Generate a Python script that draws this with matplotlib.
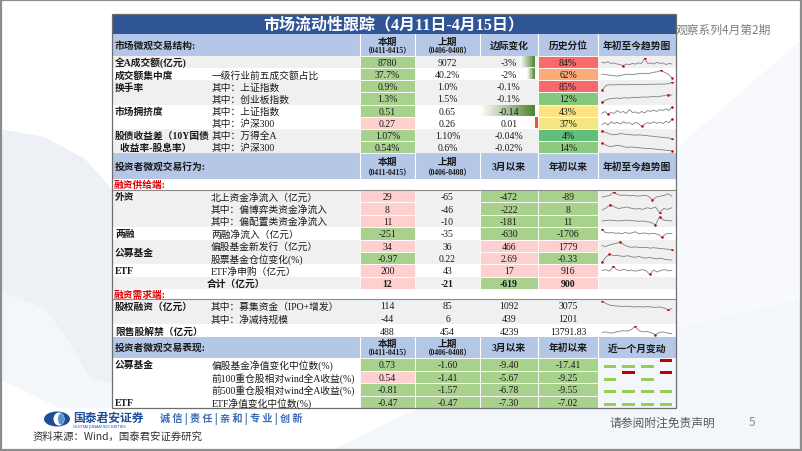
import numpy as np
import matplotlib
matplotlib.use("Agg")
import matplotlib.pyplot as plt
from matplotlib.patches import Rectangle, Polygon, Ellipse
from matplotlib.colors import LinearSegmentedColormap

SERIF = ["Liberation Serif", "Noto Sans CJK SC"]
SANS = ["Noto Sans CJK SC", "DejaVu Sans"]

# ---------------- data ----------------
title = "市场流动性跟踪（4月11日-4月15日）"
side_note = "观察系列4月第2期"
cur_period = "（0411-0415）"
prev_period = "（0406-0408）"

hdr1 = ["本期", "上期", "边际变化", "历史分位", "年初至今趋势图"]
hdr2 = ["本期", "上期", "3月以来", "年初以来", "年初至今趋势图"]
hdr3 = ["本期", "上期", "3月以来", "年初以来", "近一个月变动"]
sec_titles = ["市场微观交易结构:", "投资者微观交易行为:", "投资者微观交易表现:"]
sub_titles = ["融资供给端:", "融资需求端:"]

# section 1: market structure
s1_labels = ["全A成交额(亿元)", "成交额集中度", "换手率", "", "市场拥挤度", "",
             "股债收益差（10Y国债", "  收益率-股息率）"]
s1_sub = ["", "一级行业前五成交额占比", "其中：上证指数", "其中：创业板指数",
          "其中：上证指数", "其中：沪深300", "其中：万得全A", "其中：沪深300"]
s1_cur = ["8780", "37.7%", "0.9%", "1.3%", "0.51", "0.27", "1.07%", "0.54%"]
s1_prev = ["9072", "40.2%", "1.0%", "1.5%", "0.65", "0.26", "1.10%", "0.6%"]
s1_delta = ["-3%", "-2%", "-0.1%", "-0.1%", "-0.14", "0.01", "-0.04%", "-0.02%"]
s1_delta_val = [-3, -2, -0.1, -0.1, -0.14, 0.01, -0.04, -0.02]
s1_pct = [84, 62, 85, 12, 43, 37, 4, 14]
s1_cur_fill = ["g", "g", "g", "g", "g", "p", "g", "g"]
s1_trend = [
    [0.6, 0.55, 0.65, 0.5, 0.55, 0.45, 0.4, 0.3, 0.45, 0.4, 0.5, 0.45, 0.55, 0.5, 0.95, 0.5, 0.55, 0.45, 0.6, 0.5, 0.55, 0.4, 0.5, 0.45],
    [0.5, 0.45, 0.4, 0.35, 0.3, 0.35, 0.45, 0.5, 0.45, 0.5, 0.55, 0.6, 0.55, 0.6, 0.7, 0.75, 0.9, 0.7, 0.5, 0.1],
    [0.0, 0.6, 0.7, 0.68, 0.7, 0.72, 0.7, 0.71, 0.73, 0.72, 0.74, 0.73, 0.75, 0.76, 0.75, 0.78, 0.77, 0.8, 0.82, 1.0],
    [0.0, 0.3, 0.45, 0.5, 0.55, 0.5, 0.6, 0.55, 0.6, 0.65, 0.6, 0.7, 0.65, 0.7, 0.75, 0.7, 0.8, 0.85, 1.0, 0.9],
    [0.3, 0.5, 0.2, 0.4, 0.3, 0.6, 0.4, 0.5, 0.3, 0.7, 0.4, 0.45, 0.3, 0.5, 0.35, 0.6, 0.5, 0.65, 0.5, 0.7, 0.6, 0.8, 0.6, 1.0],
    [0.4, 0.6, 0.35, 0.7, 0.5, 0.65, 0.45, 0.7, 0.55, 0.6, 0.4, 0.65, 0.5, 0.2, 0.45, 0.6, 0.5, 0.7, 0.55, 0.65, 0.5, 0.75, 0.6, 1.0],
    [1.0, 0.8, 0.6, 0.5, 0.55, 0.65, 0.6, 0.55, 0.5, 0.45, 0.5, 0.45, 0.4, 0.35, 0.3, 0.25, 0.2, 0.15, 0.1, 0.0],
    [1.0, 0.75, 0.55, 0.6, 0.7, 0.65, 0.5, 0.45, 0.5, 0.45, 0.4, 0.35, 0.3, 0.3, 0.25, 0.2, 0.15, 0.1, 0.05, 0.0],
]

# section 2: investor behaviour (supply side)
s2_labels = ["外资", "", "", "两融", "公募基金", "", "ETF", ""]
s2_sub = ["北上资金净流入（亿元）", "其中：偏博弈类资金净流入", "其中：偏配置类资金净流入",
          "两融净流入（亿元）", "偏股基金新发行（亿元）", "股票基金仓位变化(%)",
          "ETF净申购（亿元）", "合计（亿元）"]
s2_cur = ["29", "8", "11", "-251", "34", "-0.97", "200", "12"]
s2_prev = ["-65", "-46", "-10", "-35", "36", "0.22", "43", "-21"]
s2_mar = ["-472", "-222", "-181", "-630", "466", "2.69", "17", "-619"]
s2_ytd = ["-89", "8", "11", "-1706", "1779", "-0.33", "916", "900"]
s2_cur_fill = ["p", "p", "p", "g", "p", "g", "p", "p"]
s2_mar_fill = ["g", "g", "g", "g", "p", "p", "p", "g"]
s2_ytd_fill = ["g", "g", "g", "g", "p", "g", "p", "p"]
s2_trend = [
    [0.4, 0.5, 0.6, 1.0, 0.7, 0.6, 0.65, 0.55, 0.6, 0.5, 0.55, 0.6, 0.5, 0.0, 0.4, 0.5, 0.6, 0.8, 0.5],
    [0.3, 0.6, 1.0, 0.7, 0.5, 0.6, 0.7, 0.55, 0.45, 0.5, 0.4, 0.6, 0.5, 0.7, 0.0, 0.5, 0.4, 0.6],
    [0.5, 0.55, 0.6, 0.55, 0.5, 0.55, 0.6, 0.55, 0.5, 0.45, 0.5, 0.4, 0.3, 0.0, 1.0, 0.6, 0.55, 0.5],
    [1.0, 0.6, 0.55, 0.6, 0.5, 0.55, 0.45, 0.6, 0.5, 0.55, 0.7, 0.45, 0.5, 0.55, 0.4, 0.5, 0.45, 0.35, 0.0, 0.4, 0.5, 0.45],
    [0.5, 0.4, 0.6, 0.7, 0.8, 1.0, 0.6, 0.4, 0.3, 0.35, 0.3, 0.25, 0.3, 0.2, 0.25, 0.2, 0.15, 0.1, 0.05, 0.0],
    [0.0, 0.6, 1.0, 0.8, 0.85, 0.75, 0.7, 0.8, 0.65, 0.6, 0.7, 0.55, 0.5, 0.6, 0.45, 0.4, 0.5, 0.35, 0.3, 0.25],
    [0.5, 0.6, 0.4, 1.0, 0.6, 0.5, 0.65, 0.45, 0.55, 0.4, 0.5, 0.6, 0.45, 0.0, 0.55, 0.3, 0.5, 0.6, 0.45, 0.5],
    None,
]

# section 2b: demand side
s2b_labels = ["股权融资（亿元）", "", "限售股解禁（亿元）"]
s2b_sub = ["其中：募集资金（IPO+增发）", "其中：净减持规模", ""]
s2b_cur = ["114", "-44", "488"]
s2b_prev = ["85", "6", "454"]
s2b_mar = ["1092", "439", "4239"]
s2b_ytd = ["3075", "1201", "13791.83"]
s2b_trend = [
    [1.0, 0.7, 0.5, 0.45, 0.4, 0.35, 0.4, 0.35, 0.3, 0.35, 0.3, 0.35, 0.3, 0.25, 0.3, 0.2, 0.0, 0.1],
    None,
    [0.3, 0.35, 0.2, 0.3, 0.4, 0.5, 0.45, 0.6, 1.0, 0.5, 0.35, 0.4, 0.25, 0.0, 0.3, 0.35, 0.2, 0.15],
]

# section 3: investor performance
s3_labels = ["公募基金", "", "", "ETF"]
s3_sub = ["偏股基金净值变化中位数(%)", "前100重仓股相对wind全A收益(%)",
          "前500重仓股相对wind全A收益(%)", "ETF净值变化中位数(%)"]
s3_cur = ["0.73", "0.54", "-0.81", "-0.47"]
s3_prev = ["-1.60", "-1.41", "-1.57", "-0.47"]
s3_mar = ["-9.40", "-5.67", "-6.78", "-7.30"]
s3_ytd = ["-17.41", "-9.25", "-9.55", "-7.02"]
s3_cur_fill = ["g", "p", "g", "g"]
s3_month = [[-1, -1, -1, 1], [-1, 1, -1, 1], [-1, -1, -1, -1], [-1, -1, -1, -1]]

# ---------------- style ----------------
W, H = 802, 452
COLS = [112, 208, 360, 415, 480, 538, 598, 676]
FILL = {"g": "#A9D18E", "p": "#FDCFCF", "": None}
ROW_BG = {"g": "#F0F0F0", "w": "#FFFFFF"}
HDR_BLUE = "#B4C7E7"
TITLE_BLUE = "#2F5597"
TXT = "#1A1A1A"
DELTA_AXIS = 535
DELTA_SCALE = {0: 5.0, 1: 4.0, 4: 390.0, 5: 300.0}

fig = plt.figure(figsize=(W / 100, H / 100), dpi=100)
ax = fig.add_axes([0, 0, 1, 1])
ax.set_xlim(0, W)
ax.set_ylim(H, 0)
ax.axis("off")


def rect(x0, y0, x1, y1, color, z=1, ec="none", lw=0):
    ax.add_patch(Rectangle((x0, y0), x1 - x0, y1 - y0, facecolor=color,
                           edgecolor=ec, linewidth=lw, zorder=z))


def txt(x, y, s, size=7, ha="center", weight="normal", color=TXT, family=SERIF, z=5):
    ax.text(x, y, s, fontsize=size, ha=ha, va="center", fontweight=weight,
            color=color, family=family, zorder=z)


def spark(vals, y0, y1):
    sp = fig.add_axes([601 / W, 1 - (y1 - 1.5) / H, 72 / W, (y1 - y0 - 3) / H])
    v = np.asarray(vals, float)
    sp.plot(v, color="#808080", lw=0.6)
    for i in (v.argmin(), v.argmax()):
        sp.plot(i, v[i], "o", color="#C00000", ms=1.8, mec="none")
    sp.set_xlim(-0.3, len(v) - 0.7)
    sp.set_ylim(v.min() - 0.08, v.max() + 0.08)
    sp.axis("off")


def winloss(signs, y0, y1):
    sp = fig.add_axes([600 / W, 1 - y1 / H, 76 / W, (y1 - y0) / H])
    s = np.asarray(signs)
    sp.bar(np.arange(len(s)), 0.3, bottom=np.where(s > 0, 0.6, -0.1),
           width=0.68, color=np.where(s > 0, "#C00000", "#92D050"))
    sp.set_xlim(-0.55, len(s) - 0.45)
    sp.set_ylim(-0.35, 1.0)
    sp.axis("off")


def header(y0, y1, title_txt, cols):
    rect(COLS[0], y0, COLS[-1], y1, HDR_BLUE, z=1)
    for x in COLS[2:-1]:
        ax.plot([x, x], [y0, y1], color="white", lw=0.8, zorder=2)
    txt(115, (y0 + y1) / 2, title_txt, ha="left", weight="bold")
    for k, name in enumerate(cols):
        cx = (COLS[k + 2] + COLS[k + 3]) / 2
        if k < 2:
            txt(cx, y0 + (y1 - y0) * 0.32, name, weight="bold")
            txt(cx, y0 + (y1 - y0) * 0.74, cur_period if k == 0 else prev_period, size=5.5, weight="bold")
        else:
            txt(cx, (y0 + y1) / 2, name, weight="bold")


def value_cell(k, y0, y1, s, fill, weight="normal"):
    x0, x1 = COLS[k + 2], COLS[k + 3]
    if FILL[fill]:
        rect(x0, y0, x1, y1, FILL[fill], z=2, ec="white", lw=0.6)
    txt((x0 + x1) / 2, (y0 + y1) / 2 + 0.5, s, weight=weight)


# ---------------- slide background ----------------
ax.add_patch(Polygon([(0, 130), (45, 138), (85, 160), (112, 190), (112, 385), (90, 380),
                      (70, 345), (45, 310), (0, 292)], closed=True, facecolor="#EDF1F6",
                     edgecolor="none", zorder=0))
ax.add_patch(Polygon([(0, 292), (45, 310), (70, 345), (90, 380), (112, 385), (112, 409),
                      (60, 409), (0, 380)], closed=True, facecolor="#F4F7FA", edgecolor="none", zorder=0))
ax.add_patch(Polygon([(330, 452), (560, 340), (802, 300), (802, 452)], closed=True,
                     facecolor="#F3F6FA", edgecolor="none", zorder=0))
ax.add_patch(Polygon([(676, 150), (802, 40), (802, 300), (676, 330)], closed=True,
                     facecolor="#F7F9FC", edgecolor="none", zorder=0))
rect(0.8, 0.8, W - 0.8, H - 0.8, "none", z=10, ec="#8C8C8C", lw=1.6)

# ---------------- title ----------------
rect(COLS[0], 15, COLS[-1], 35, TITLE_BLUE, z=1)
txt((COLS[0] + COLS[-1]) / 2, 25.5, title, size=11.5, weight="bold", color="white")
txt(676, 30, side_note, size=8.5, ha="left", color="#7F7F7F", family=SANS)

# ---------------- section 1 ----------------
header(35, 57, sec_titles[0], hdr1)
h1 = (154 - 57) / len(s1_labels)
bg1 = ["g", "w", "g", "g", "w", "w", "g", "g"]
pct_cmap = LinearSegmentedColormap.from_list("pct", ["#63BE7B", "#FFEB84", "#F8696B"])
lo, mid, hi = min(s1_pct), np.median(s1_pct), max(s1_pct)
for i in range(len(s1_labels)):
    y0, y1 = 57 + i * h1, 57 + (i + 1) * h1
    yc = (y0 + y1) / 2 + 0.5
    rect(COLS[0], y0, COLS[-1], y1, ROW_BG[bg1[i]], z=1)
    txt(115, yc, s1_labels[i], ha="left", weight="bold")
    txt(212, yc, s1_sub[i], ha="left")
    value_cell(0, y0, y1, s1_cur[i], s1_cur_fill[i])
    value_cell(1, y0, y1, s1_prev[i], "")
    # data bar in the marginal-change column
    if i in DELTA_SCALE:
        length = s1_delta_val[i] * DELTA_SCALE[i]
        if length < 0:
            cmap = LinearSegmentedColormap.from_list("bar", ["#FFFFFF", "#4F8434"])
            ax.imshow(np.linspace(0, 1, 64)[None, :], extent=[DELTA_AXIS + length, DELTA_AXIS, y1 - 0.8, y0 + 0.8],
                      cmap=cmap, aspect="auto", zorder=2, interpolation="bilinear")
        else:
            rect(DELTA_AXIS, y0 + 0.8, DELTA_AXIS + length, y1 - 0.8, "#E8553A", z=2)
    txt((COLS[4] + COLS[5]) / 2, yc, s1_delta[i])
    p = s1_pct[i]
    f = (p - lo) / (mid - lo) * 0.5 if p <= mid else 0.5 + (p - mid) / (hi - mid) * 0.5
    rect(COLS[5], y0, COLS[6], y1, pct_cmap(f), z=2, ec="white", lw=0.6)
    txt((COLS[5] + COLS[6]) / 2, yc, f"{p}%")
    spark(s1_trend[i], y0, y1)

# ---------------- section 2 ----------------
header(154, 180, sec_titles[1], hdr2)
txt(114, 185.5, sub_titles[0], ha="left", weight="bold", color="#E00000")
h2 = (290 - 191) / len(s2_labels)
bg2 = ["g", "g", "g", "w", "g", "g", "w", "g"]
for i in range(len(s2_labels)):
    y0, y1 = 191 + i * h2, 191 + (i + 1) * h2
    yc = (y0 + y1) / 2 + 0.5
    rect(COLS[0], y0, COLS[-1], y1, ROW_BG[bg2[i]], z=1)
    last = i == len(s2_labels) - 1
    wt = "bold" if last else "normal"
    if s2_labels[i] == "公募基金":
        txt(115, y1 + 0.5, s2_labels[i], ha="left", weight="bold")
    else:
        txt(115, yc, s2_labels[i], ha="left", weight="bold")
    txt(207 if last else 211, yc, s2_sub[i], ha="left", weight=wt)
    value_cell(0, y0, y1, s2_cur[i], s2_cur_fill[i], wt)
    value_cell(1, y0, y1, s2_prev[i], "", wt)
    value_cell(2, y0, y1, s2_mar[i], s2_mar_fill[i], wt)
    value_cell(3, y0, y1, s2_ytd[i], s2_ytd_fill[i], wt)
    if s2_trend[i] is not None:
        spark(s2_trend[i], y0, y1)

txt(114, 295, sub_titles[1], ha="left", weight="bold", color="#E00000")
h2b = (338 - 300) / len(s2b_labels)
bg2b = ["g", "g", "w"]
for i in range(len(s2b_labels)):
    y0, y1 = 300 + i * h2b, 300 + (i + 1) * h2b
    yc = (y0 + y1) / 2 + 0.5
    rect(COLS[0], y0, COLS[-1], y1, ROW_BG[bg2b[i]], z=1)
    txt(115, yc, s2b_labels[i], ha="left", weight="bold")
    txt(211, yc, s2b_sub[i], ha="left")
    value_cell(0, y0, y1, s2b_cur[i], "")
    value_cell(1, y0, y1, s2b_prev[i], "")
    value_cell(2, y0, y1, s2b_mar[i], "")
    value_cell(3, y0, y1, s2b_ytd[i], "")
    if s2b_trend[i] is not None:
        spark(s2b_trend[i], y0, y1)

# ---------------- section 3 ----------------
header(338, 359, sec_titles[2], hdr3)
h3 = (409 - 359) / len(s3_labels)
for i in range(len(s3_labels)):
    y0, y1 = 359 + i * h3, 359 + (i + 1) * h3
    yc = (y0 + y1) / 2 + 0.5
    txt(115, yc, s3_labels[i], ha="left", weight="bold")
    txt(212, yc, s3_sub[i], ha="left")
    value_cell(0, y0, y1, s3_cur[i], s3_cur_fill[i])
    value_cell(1, y0, y1, s3_prev[i], "g")
    value_cell(2, y0, y1, s3_mar[i], "g")
    value_cell(3, y0, y1, s3_ytd[i], "g")
    winloss(s3_month[i], y0, y1)

# table rules and border
for y in (191, 300):
    ax.plot([COLS[0], COLS[-1]], [y, y], color="#8C8C8C", lw=0.8, zorder=3)
rect(COLS[0], 15, COLS[-1], 409, "none", z=4, ec="#6E6E6E", lw=0.9)

# ---------------- footer ----------------
ax.add_patch(Ellipse((57, 420), 26, 15, facecolor="#1C4E9B", zorder=3))
ax.add_patch(Ellipse((59, 420), 11, 13, facecolor="white", zorder=4))
ax.add_patch(Ellipse((61, 420), 6, 11, facecolor="#5B8FD0", zorder=5))
txt(73, 418, "国泰君安证券", size=8.5, ha="left", weight="bold", color="#1C4E9B", family=SANS)
txt(73, 427.5, "GUOTAI JUNAN SECURITIES", size=2.8, ha="left", color="#1C4E9B", family=["DejaVu Sans"])
txt(160, 419, "诚 信 | 责 任 | 亲 和 | 专 业 | 创 新", size=7.3, ha="left", weight="bold",
    color="#3A6BB5", family=SANS)
txt(33, 437, "资料来源：Wind，国泰君安证券研究", size=7.5, ha="left", color="#333333", family=SANS)
txt(610, 423, "请参阅附注免责声明", size=8.5, ha="left", color="#595959", family=SANS)
txt(749, 423, "5", size=8.5, ha="left", color="#8C8C8C", family=SANS)

ax.set_xlim(0, W)
ax.set_ylim(H, 0)
fig.savefig("out.png", dpi=100)
